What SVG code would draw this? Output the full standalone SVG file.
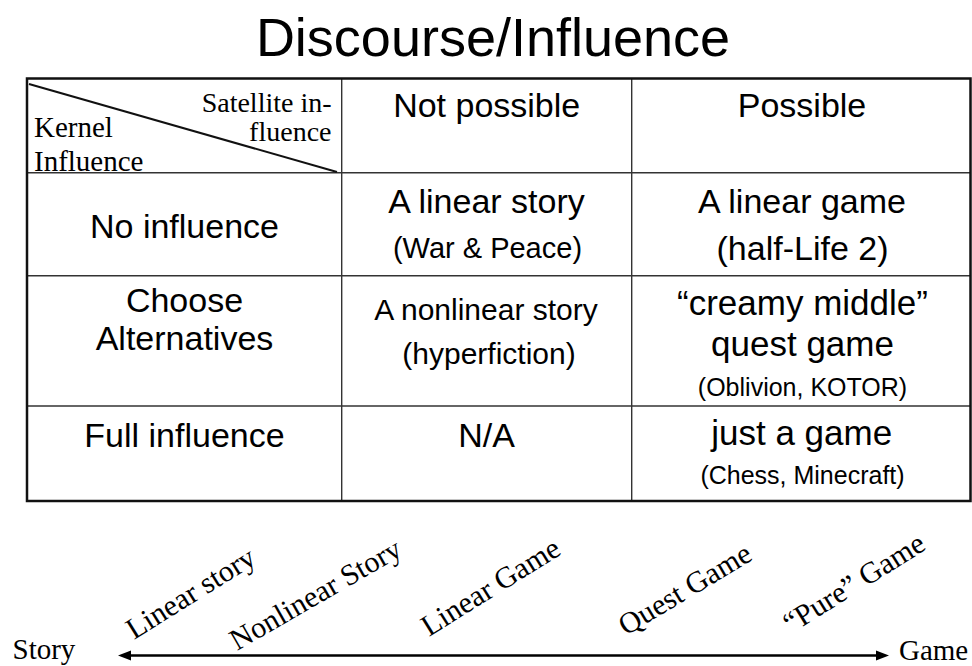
<svg xmlns="http://www.w3.org/2000/svg" width="972" height="666" viewBox="0 0 972 666">
<style>
.sans{font-family:"Liberation Sans",Arial,sans-serif;fill:#000;text-anchor:middle}
.serif{font-family:"Liberation Serif","Times New Roman",serif;fill:#000}
.big{font-size:34px}
.mid{font-size:29px}
.hdr{font-size:28px}
.small{font-size:25px}
.lab{font-size:30px}
.outer{fill:none;stroke:#111;stroke-width:2.5}
.inner{stroke:#333;stroke-width:1.4}
</style>
<rect width="972" height="666" fill="#fff"/>
<g id="title"><text class="sans" x="493" y="56" style="font-size:54px">Discourse/Influence</text></g>
<g id="table-grid">
<line class="inner" x1="341.7" y1="78" x2="341.7" y2="501"/>
<line class="inner" x1="631.7" y1="78" x2="631.7" y2="501"/>
<line class="inner" x1="27" y1="172.7" x2="970" y2="172.7"/>
<line class="inner" x1="27" y1="275.7" x2="970" y2="275.7"/>
<line class="inner" x1="27" y1="406" x2="970" y2="406"/>
<rect class="outer" x="27" y="78.5" width="943.5" height="422.5"/>
<line x1="29" y1="84" x2="337" y2="172" stroke="#111" stroke-width="2"/>
</g>
<g id="header-corner">
<text class="serif hdr" x="331.5" y="112" text-anchor="end">Satellite in-</text>
<text class="serif hdr" x="331.5" y="141" text-anchor="end">fluence</text>
<text class="serif mid" x="34" y="137">Kernel</text>
<text class="serif mid" x="34" y="170.5">Influence</text>
</g>
<g id="header-not-possible"><text class="sans big" x="486.7" y="117">Not possible</text></g>
<g id="header-possible"><text class="sans big" x="802" y="117">Possible</text></g>
<g id="row-no-influence"><text class="sans big" x="184.5" y="238">No influence</text></g>
<g id="row-choose"><text class="sans big" x="184.5" y="311.5">Choose</text><text class="sans big" x="184.5" y="350">Alternatives</text></g>
<g id="row-full"><text class="sans big" x="184.5" y="446.5">Full influence</text></g>
<g id="cell-linear-story"><text class="sans big" x="486.5" y="213">A linear story</text><text class="sans mid" x="487.5" y="258">(War &amp; Peace)</text></g>
<g id="cell-linear-game"><text class="sans big" x="802" y="213">A linear game</text><text class="sans big" x="802.5" y="260">(half-Life 2)</text></g>
<g id="cell-nonlinear-story"><text class="sans" style="font-size:30px" x="486" y="320">A nonlinear story</text><text class="sans" style="font-size:30px" x="489" y="364">(hyperfiction)</text></g>
<g id="cell-quest-game"><text class="sans" style="font-size:35px" x="802.5" y="315">“creamy middle”</text><text class="sans" style="font-size:35px" x="802.5" y="356">quest game</text><text class="sans small" x="802.5" y="396">(Oblivion, KOTOR)</text></g>
<g id="cell-na"><text class="sans big" x="486.5" y="447">N/A</text></g>
<g id="cell-just-game"><text class="sans" style="font-size:35px" x="801.7" y="445">just a game</text><text class="sans small" x="802.5" y="484">(Chess, Minecraft)</text></g>
<g id="connectors">
<line x1="128" y1="655.5" x2="879" y2="655.5" stroke="#000" stroke-width="2.5"/>
<polygon points="118,655.5 131,650.5 131,660.5" fill="#000"/>
<polygon points="889,655.5 876,650.5 876,660.5" fill="#000"/>
</g>
<g id="axis-story"><text class="serif mid" x="12.5" y="659">Story</text></g>
<g id="axis-game"><text class="serif mid" x="899" y="660">Game</text></g>
<g id="label-linear-story"><text class="serif lab" transform="translate(134,640) rotate(-32)">Linear story</text></g>
<g id="label-nonlinear-story"><text class="serif lab" transform="translate(237,651) rotate(-30)">Nonlinear Story</text></g>
<g id="label-linear-game"><text class="serif lab" transform="translate(429,637) rotate(-32)">Linear Game</text></g>
<g id="label-quest-game"><text class="serif lab" transform="translate(626,636) rotate(-31)">Quest Game</text></g>
<g id="label-pure-game"><text class="serif lab" transform="translate(791,634) rotate(-32)">“Pure” Game</text></g>
</svg>
